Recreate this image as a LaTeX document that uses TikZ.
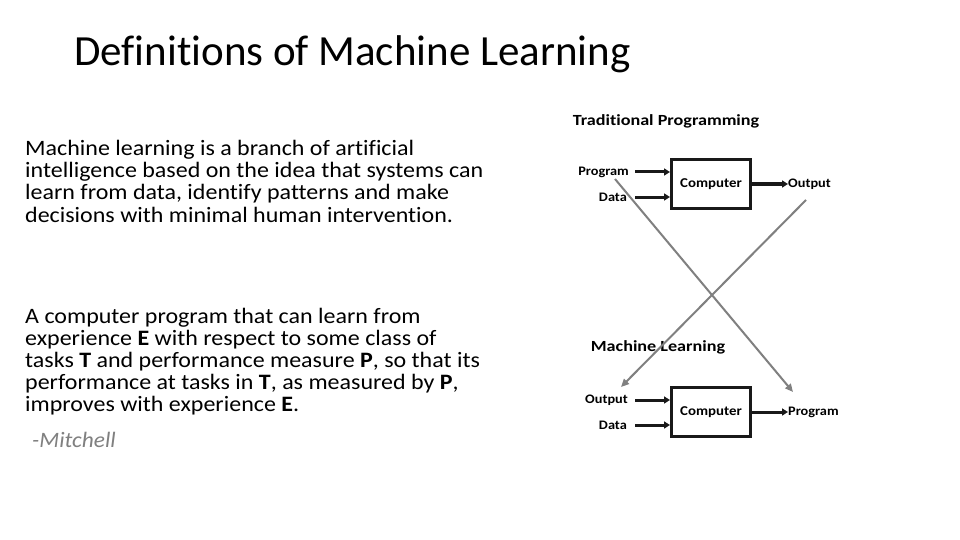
\documentclass[tikz,border=0pt]{standalone}
\usepackage{fontspec}
\setmainfont{Carlito}[Ligatures=NoCommon]
\newfontfamily\bodyfont{Carlito}[FakeStretch=1.09,Ligatures=NoCommon]
\newfontfamily\mitfont{Carlito}[FakeStretch=1.06,Ligatures=NoCommon]
\newfontfamily\hdrfont{Carlito}[FakeStretch=1.17,Ligatures=NoCommon]
\newfontfamily\lblfont{Carlito}[FakeStretch=1.1,Ligatures=NoCommon]
\usetikzlibrary{arrows.meta}
\definecolor{lgray}{RGB}{128,128,128}
\definecolor{dk}{RGB}{25,25,25}
\begin{document}
\begin{tikzpicture}[x=1pt,y=-1pt,
  body/.style={anchor=base west,inner sep=0pt,font=\bodyfont\fontsize{22}{22}\selectfont,align=left},
  lbl/.style={inner sep=0pt,font=\lblfont\fontsize{13}{15}\selectfont\bfseries},
  hdr/.style={inner sep=0pt,font=\hdrfont\fontsize{15.5}{17}\selectfont\bfseries},
  cbox/.style={draw=dk,line width=3pt,minimum width=79pt,minimum height=49pt,inner sep=0pt,font=\lblfont\fontsize{13.5}{15}\selectfont\bfseries},
  blk/.style={draw=dk,line width=3pt,-{Triangle[length=6pt,width=7pt]}},
  gry/.style={draw=lgray,line width=2pt,-{Triangle[length=8pt,width=7pt]}}]
\useasboundingbox (0,0) rectangle (960,540);
\fill[white] (0,0) rectangle (960,540);
% title
\node[anchor=base west,inner sep=0pt,font=\fontsize{43}{43}\selectfont] (title) at (74,66) {Definitions of Machine Learning};
% body text
\node[body] (p1a) at (25,156) {Machine learning is a branch of artificial};
\node[body] (p1b) at (25,178) {intelligence based on the idea that systems can};
\node[body] (p1c) at (25,200) {learn from data, identify patterns and make};
\node[body] (p1d) at (25,222) {decisions with minimal human intervention.};
\node[body] (p2a) at (25,323) {A computer program that can learn from};
\node[body] (p2b) at (25,345) {experience \textbf{E} with respect to some class of};
\node[body] (p2c) at (25,367) {tasks \textbf{T} and performance measure \textbf{P}, so that its};
\node[body] (p2d) at (25,389) {performance at tasks in \textbf{T}, as measured by \textbf{P},};
\node[body] (p2e) at (25,411) {improves with experience \textbf{E}.};
\node[body,text=lgray,font=\mitfont\fontsize{22}{22}\selectfont\itshape] (mit) at (32,447) {-Mitchell};
% traditional programming
\node[hdr] (thdr) at (666,121) {Traditional Programming};
\node[cbox] (tbox) at (711,184) {Computer};
\node[lbl,anchor=east] (tprog) at (629,172) {Program};
\node[lbl,anchor=east] (tdata) at (627,197) {Data};
\node[lbl,anchor=west] (tout) at (788,184) {Output};
\draw[blk] ([xshift=6pt]tprog.east) -- (tprog.east -| tbox.west);
\draw[blk] ([xshift=8pt]tdata.east) -- (tdata.east -| tbox.west);
\draw[blk] (tbox.east) -- (tout.west);
% machine learning
\node[hdr] (mhdr) at (658,347) {Machine Learning};
\node[cbox] (mbox) at (711,412) {Computer};
\node[lbl,anchor=east] (mout) at (628,400) {Output};
\node[lbl,anchor=east] (mdata) at (627,425) {Data};
\node[lbl,anchor=west] (mprog) at (788,412) {Program};
\draw[blk] ([xshift=7pt]mout.east) -- (mout.east -| mbox.west);
\draw[blk] ([xshift=8pt]mdata.east) -- (mdata.east -| mbox.west);
\draw[blk] (mbox.east) -- (mprog.west);
% crossing gray arrows
\coordinate (g1s) at (615,179);
\coordinate (g1e) at (793,392);
\coordinate (g2s) at (806,200);
\coordinate (g2e) at (621,387);
\draw[gry] (g1s) -- (g1e);
\draw[gry] (g2s) -- (g2e);
\end{tikzpicture}
\end{document}
